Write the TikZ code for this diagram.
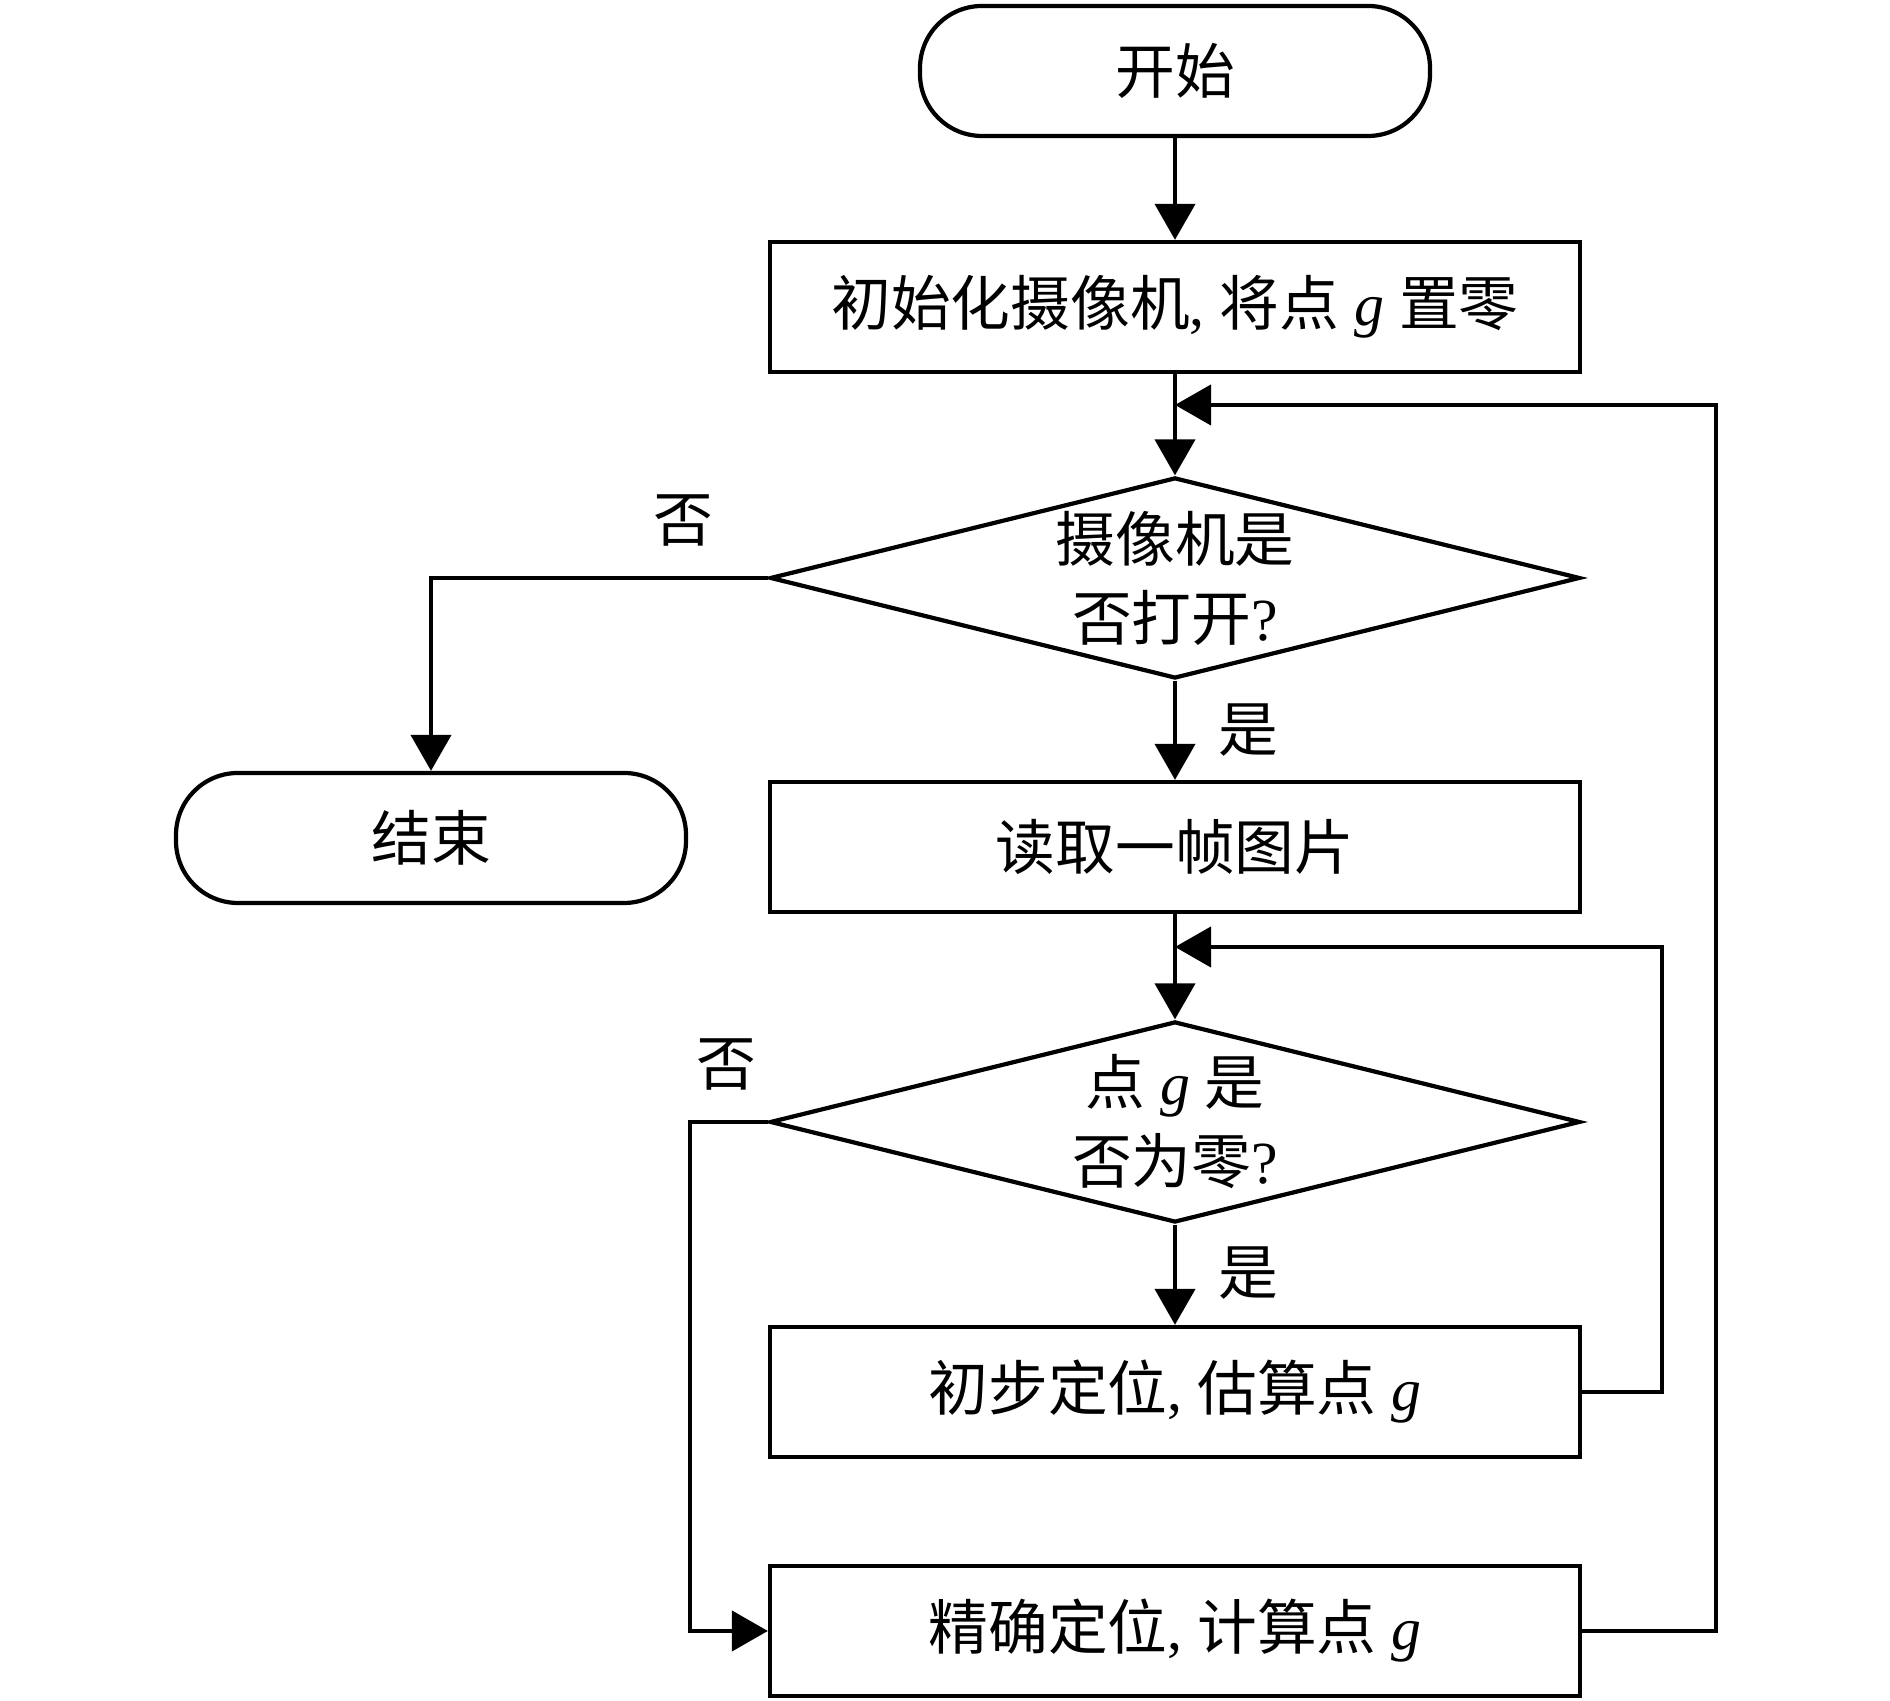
\documentclass[tikz,border=0pt]{standalone}
\usepackage{fontspec}
\setmainfont{Liberation Serif}
\newfontfamily\cjk{Noto Sans CJK SC}
\newcommand{\zh}[1]{{\cjk #1}}
\usetikzlibrary{arrows.meta,shapes.geometric}
\tikzset{>={Triangle[length=0.36cm,width=0.4cm]}}
\tikzset{
	every node/.style={font=\fontsize{17pt}{22.5pt}\selectfont},
	terminal/.style={draw, line width=1.2pt, rounded corners=0.62cm,
			minimum width=5.10cm, minimum height=1.30cm, inner sep=0pt},
	process/.style={draw, line width=1.2pt,
			minimum width=8.10cm, minimum height=1.30cm, inner sep=0pt},
	decision/.style={draw, diamond, line width=1.2pt, aspect=4, align=center,
			minimum width=8.10cm, minimum height=2.01cm, inner sep=-0.5cm},
	flow/.style={->, line width=1.2pt}
}

\begin{document}
\begin{tikzpicture}
		\useasboundingbox (0,0) rectangle (18.9,17.01);

		% Main column
		\node[terminal] (start) at (11.75,16.30) {\zh{开始}};
		\node[process] (init) at (11.75,13.94) {\zh{初始化摄像机}, \zh{将点} \textit{g} \zh{置零}};
		\node[decision] (cam) at (11.75,11.23) {\zh{摄像机是}\\\zh{否打开}?};
		\node[terminal] (stop) at (4.31,8.63) {\zh{结束}};
		\node[process] (read) at (11.75,8.54) {\zh{读取一帧图片}};
		\node[decision] (zero) at (11.75,5.79) {\zh{点} \textit{g} \zh{是}\\\zh{否为零}?};
		\node[process] (coarse) at (11.75,3.09) {\zh{初步定位}, \zh{估算点} \textit{g}};
		\node[process] (fine) at (11.75,0.70) {\zh{精确定位}, \zh{计算点} \textit{g}};

		% Branch labels
		\node (no1) at (6.83,11.80) {\zh{否}};
		\node (yes1) at (12.48,9.71) {\zh{是}};
		\node (no2) at (7.26,6.36) {\zh{否}};
		\node (yes2) at (12.48,4.28) {\zh{是}};

		% Loop entry points
		\coordinate (loopA) at (11.75,12.96);
		\coordinate (loopB) at (11.75,7.54);

		\draw[flow] (start) -- (init);
		\draw[flow] (init) -- (cam);
		\draw[flow] (cam.west) -| (stop);
		\draw[flow] (cam) -- (read);
		\draw[flow] (read) -- (zero);
		\draw[flow] (zero) -- (coarse);
		\draw[flow] (zero.west) -- ++(-0.78,0) |- (fine);
		\draw[flow] (coarse.east) -- ++(0.8,0) |- (loopB);
		\draw[flow] (fine.east) -- ++(1.34,0) |- (loopA);
	\end{tikzpicture}
\end{document}
